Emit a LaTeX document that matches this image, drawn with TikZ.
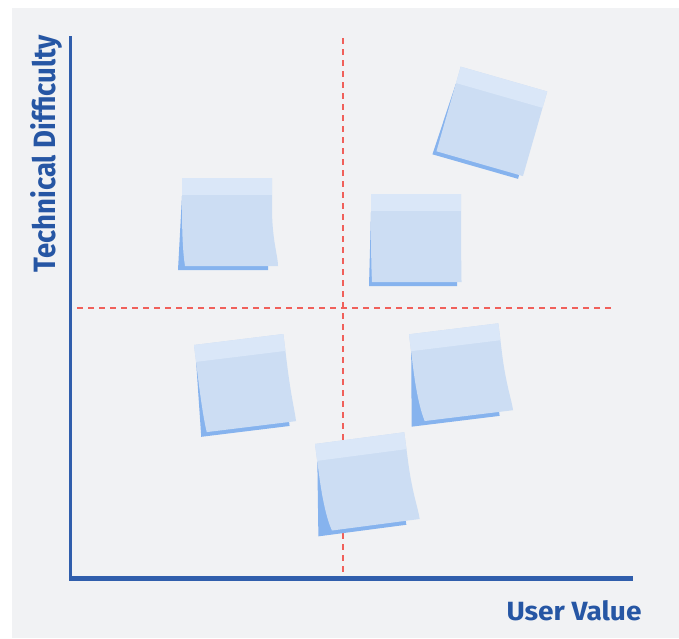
\documentclass[tikz,border=0pt]{standalone}
\usepackage{fontspec}
\setmainfont{Fira Sans}
\usepackage{graphicx}

\definecolor{canvasgray}{RGB}{241,242,244}
\definecolor{axisblue}{RGB}{48,94,172}
\definecolor{labelblue}{RGB}{38,86,164}
\definecolor{guidered}{RGB}{240,96,90}
\definecolor{notebodyc}{RGB}{204,221,243}
\definecolor{notebandc}{RGB}{218,231,248}
\definecolor{notebackc}{RGB}{134,179,238}

\tikzset{
  axisline/.style={draw=axisblue, line cap=butt},
  guideline/.style={draw=guidered, line width=1.4pt, dash pattern=on 6pt off 5pt},
  noteback/.style={fill=notebackc},
  notebody/.style={fill=notebodyc},
  noteband/.style={fill=notebandc},
  axislabel/.style={text=labelblue, inner sep=0pt, anchor=base, font=\bfseries},
}

% A sticky note: #1,#2 top-left corner, #3 rotation,
% #4 overhang of the backing sheet on the left, #5 right end of the backing sheet,
% #6 tip of the curled corner, #7 lifted bottom-left corner of the front sheet
\newcommand\stickynote[7]{%
  \begin{scope}[shift={(#1,#2)}, rotate=#3]
    \fill[noteback] (0,18) -- (-#4,92) -- (#5,92) -- (#5,50) -- cycle;
    \fill[notebody] (0,0) -- (90,0) -- (90,30)
      .. controls (90,62) and (#6,78) .. (#6,88)
      -- (#7,88)
      .. controls (0.3*#7,75) and (0,55) .. (0,30) -- cycle;
    \fill[noteband] (0,0) rectangle (90,17);
  \end{scope}}

\begin{document}
\begin{tikzpicture}[x=1pt, y=-1pt]
  \useasboundingbox (0,0) rectangle (679,638);
  \fill[white] (0,0) rectangle (679,638);
  \fill[canvasgray] (12,8) rectangle (679,638);

  % quadrant guides
  \coordinate (vtop) at (343,38);
  \coordinate (vbot) at (343,575);
  \coordinate (hleft) at (77,308);
  \coordinate (hright) at (613,308);
  \draw[guideline] (vtop) -- (vbot);
  \draw[guideline] (hleft) -- (hright);

  % axes
  \coordinate (origin) at (70.5,578);
  \coordinate (ytop) at (70.5,36);
  \coordinate (xend) at (633,578);
  \draw[axisline, line width=3pt] (ytop) -- (origin);
  \draw[axisline, line width=5pt] (69,578) -- (xend);

  % axis labels
  \node[axislabel, rotate=90] (ylabel) at (55,153.5)
    {\resizebox{237pt}{25pt}{Technical Difficulty}};
  \node[axislabel] (xlabel) at (574,620)
    {\resizebox{135pt}{20pt}{User Value}};

  % sticky notes
  \stickynote{182}{178}{0}{4}{86}{96}{3}
  \stickynote{371}{194}{0}{2}{86}{90.5}{1}
  \stickynote{460.7}{66.7}{-16}{3}{86}{90}{0}
  \stickynote{194}{345}{7}{4}{85}{92}{2}
  \stickynote{409}{334.3}{7}{8.6}{80}{94}{5}
  \stickynote{315}{444}{7.5}{8.7}{80}{94}{5.5}
\end{tikzpicture}
\end{document}
